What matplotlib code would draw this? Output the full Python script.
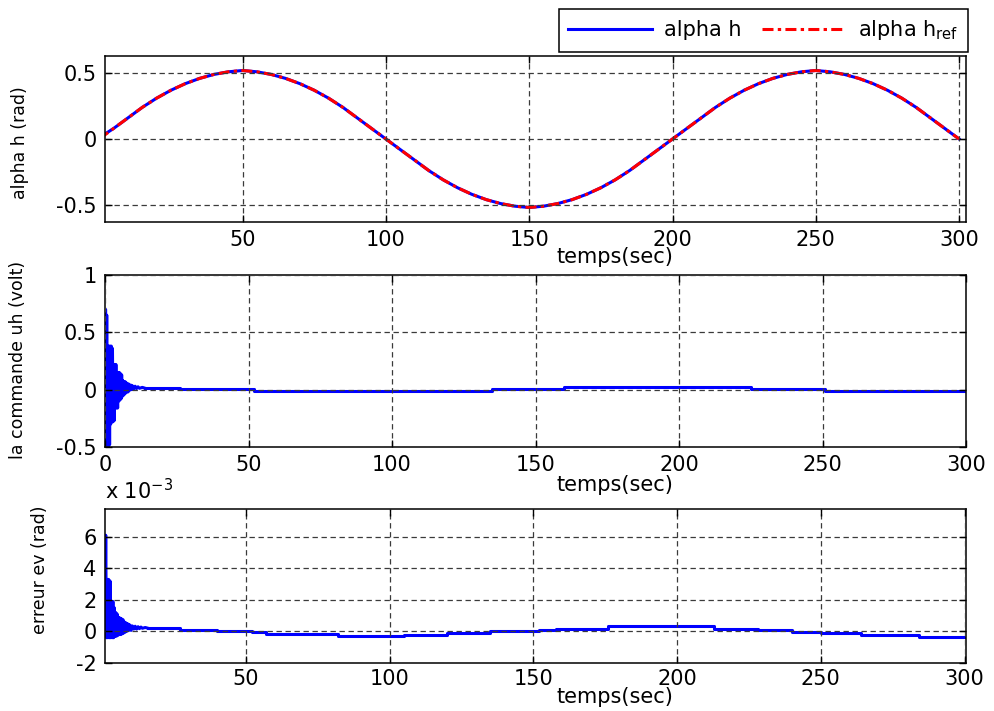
import numpy as np
import matplotlib
matplotlib.use("Agg")
import matplotlib.pyplot as plt

# ---------------- data ----------------
t_alpha = np.arange(0, 301, 5)
alpha_ref = [0.00, 0.08, 0.16, 0.24, 0.31, 0.37, 0.42, 0.46, 0.49, 0.51, 0.52,
             0.51, 0.49, 0.46, 0.42, 0.37, 0.31, 0.24, 0.16, 0.08, 0.00,
             -0.08, -0.16, -0.24, -0.31, -0.37, -0.42, -0.46, -0.49, -0.51, -0.52,
             -0.51, -0.49, -0.46, -0.42, -0.37, -0.31, -0.24, -0.16, -0.08, 0.00,
             0.08, 0.16, 0.24, 0.31, 0.37, 0.42, 0.46, 0.49, 0.51, 0.52,
             0.51, 0.49, 0.46, 0.42, 0.37, 0.31, 0.24, 0.16, 0.08, 0.00]
alpha_h = [0.01, 0.08, 0.16, 0.24, 0.31, 0.37, 0.42, 0.46, 0.49, 0.51, 0.52,
           0.51, 0.49, 0.46, 0.42, 0.37, 0.31, 0.24, 0.16, 0.08, 0.00,
           -0.08, -0.16, -0.24, -0.31, -0.37, -0.42, -0.46, -0.49, -0.51, -0.52,
           -0.51, -0.49, -0.46, -0.42, -0.37, -0.31, -0.24, -0.16, -0.08, 0.00,
           0.08, 0.16, 0.24, 0.31, 0.37, 0.42, 0.46, 0.49, 0.51, 0.52,
           0.51, 0.49, 0.46, 0.42, 0.37, 0.31, 0.24, 0.16, 0.08, 0.00]

# command uh: early oscillation (t = 0 .. 10 s, every 0.2 s)
t_u_osc = np.arange(0, 10.01, 0.2)
u_osc = [0.00, 0.70, -0.50, 0.65, -0.50, 0.38, -0.50, 0.38, -0.48, 0.38,
         -0.30, 0.38, -0.28, 0.36, -0.28, 0.22, -0.27, 0.22, -0.16, 0.22,
         -0.16, 0.15, -0.16, 0.15, -0.10, 0.15, -0.09, 0.14, -0.08, 0.13,
         -0.06, 0.08, -0.05, 0.07, -0.04, 0.07, -0.03, 0.06, -0.02, 0.05,
         -0.02, 0.05, -0.01, 0.04, 0.00, 0.04, 0.00, 0.035, 0.005, 0.03, 0.01]
t_u_tail = [10.0, 10.5, 11.0, 11.5, 12.0, 13.0, 14.0]
u_tail = [0.01, 0.03, 0.01, 0.025, 0.012, 0.02, 0.012]
t_u_steps = [14, 26, 52, 135, 160, 225, 251, 300]
u_steps = [0.012, 0.003, -0.012, 0.004, 0.022, 0.003, -0.01]

# error ev (x 1e-3): early oscillation (t = 1 .. 10 s, every 0.25 s)
t_e_osc = np.arange(1.0, 10.01, 0.25)
e_osc = [0.0, 6.1, -0.4, 3.3, -0.4, 3.3, -0.4, 3.2, -0.4, 1.9,
         -0.4, 1.9, -0.4, 1.5, -0.3, 1.2, -0.3, 1.1, -0.25, 0.9,
         -0.2, 0.85, -0.2, 0.8, -0.15, 0.75, -0.1, 0.6, -0.05, 0.55,
         0.0, 0.5, 0.05, 0.45, 0.1, 0.4, 0.1]
t_e_tail = [10.0, 10.5, 11, 11.5, 12, 12.5, 13, 13.5, 14, 15, 16]
e_tail = [0.1, 0.35, 0.15, 0.33, 0.15, 0.3, 0.18, 0.28, 0.2, 0.25, 0.2]
t_e_steps = [16, 27, 40, 52, 57, 82, 105, 120, 135, 152, 158, 176, 213, 228,
             240, 250, 264, 284, 300]
e_steps = [0.2, 0.1, 0.0, -0.05, -0.15, -0.3, -0.2, -0.1, 0.0, 0.06, 0.17,
           0.32, 0.17, 0.06, -0.04, -0.1, -0.2, -0.34]

x_ticks = [0, 50, 100, 150, 200, 250, 300]

# ---------------- style ----------------
plt.rcParams['font.family'] = ['DejaVu Sans']
FS = 15
BLUE = '#0000ff'
RED = '#ff0000'
grid_kw = dict(color='#3a3a3a', linewidth=0.9, linestyle=(0, (4.3, 2.9)))

fig = plt.figure(figsize=(9.94, 7.11), dpi=100)
W, H = 994.0, 711.0
left, right = 105 / W, 966 / W


def make_ax(top_px, bot_px, pad=6):
    ax = fig.add_axes([left, 1 - bot_px / H, right - left, (bot_px - top_px) / H])
    ax.tick_params(direction='in', length=5, width=1, top=True, right=True,
                   labelsize=FS, pad=pad)
    for s in ax.spines.values():
        s.set_linewidth(1.1)
    ax.grid(True, **grid_kw)
    ax.set_axisbelow(False)
    return ax


# top
ax1 = make_ax(56, 222)
ax1.plot(t_alpha, alpha_h, color=BLUE, lw=2.2, label='alpha h')
ax1.plot(t_alpha, alpha_ref, color=RED, lw=2.2, linestyle=(0, (3.6, 1.4, 1.1, 1.4)),
         label='alpha h$_{\\mathregular{ref}}$')
ax1.set_xlim(2, 302.4)
ax1.set_ylim(-0.63, 0.63)
ax1.set_xticks(x_ticks[1:])
ax1.set_yticks([-0.5, 0, 0.5])
ax1.set_yticklabels(['-0.5', '0', '0.5'])

# middle
ax2 = make_ax(275, 447)
ax2.plot(t_u_osc, u_osc, color=BLUE, lw=2.2)
ax2.plot(t_u_tail, u_tail, color=BLUE, lw=2.2)
ax2.step(t_u_steps, u_steps + [u_steps[-1]], where='post', color=BLUE, lw=2.2)
ax2.set_xlim(0, 300)
ax2.set_ylim(-0.5, 1)
ax2.set_xticks(x_ticks)
ax2.set_yticks([-0.5, 0, 0.5, 1])
ax2.set_yticklabels(['-0.5', '0', '0.5', '1'])

# bottom
ax3 = make_ax(509, 663, pad=4)
ax3.plot(t_e_osc, e_osc, color=BLUE, lw=2.2)
ax3.plot(t_e_tail, e_tail, color=BLUE, lw=2.2)
ax3.step(t_e_steps, e_steps + [e_steps[-1]], where='post', color=BLUE, lw=2.2)
ax3.set_xlim(1, 300.5)
ax3.set_ylim(-2, 7.76)
ax3.set_xticks(x_ticks[1:])
ax3.set_yticks([-2, 0, 2, 4, 6])
ax3.set_yticklabels(['-2', '0', '2', '4', '6'])
ax3.tick_params(axis='y', pad=6)

# x labels
for ypx in (257, 485, 697):
    fig.text(615 / W, 1 - ypx / H, 'temps(sec)', fontsize=FS, ha='center', va='center')

# y labels
fig.text(20 / W, 1 - 143 / H, 'alpha h (rad)', fontsize=12.5, rotation=90,
         ha='center', va='center')
fig.text(18 / W, 1 - 360 / H, 'la commande uh (volt)', fontsize=12.5, rotation=90,
         ha='center', va='center')
fig.text(40 / W, 1 - 570 / H, 'erreur ev (rad)', fontsize=12.5, rotation=90,
         ha='center', va='center')

# exponent text
fig.text(105 / W, 1 - 491 / H, 'x 10$^{\\mathregular{-3}}$', fontsize=FS,
         ha='left', va='center')

# legend
h, l = ax1.get_legend_handles_labels()
leg = fig.legend(h, l, loc='upper right', bbox_to_anchor=(968 / W, 1 - 9 / H),
                 ncol=2, fontsize=FS, handlelength=4.0, handletextpad=0.6,
                 columnspacing=1.0, borderpad=0.45, borderaxespad=0,
                 fancybox=False, edgecolor='black', framealpha=1)
leg.get_frame().set_linewidth(1.1)

fig.savefig('out.png', dpi=100)
